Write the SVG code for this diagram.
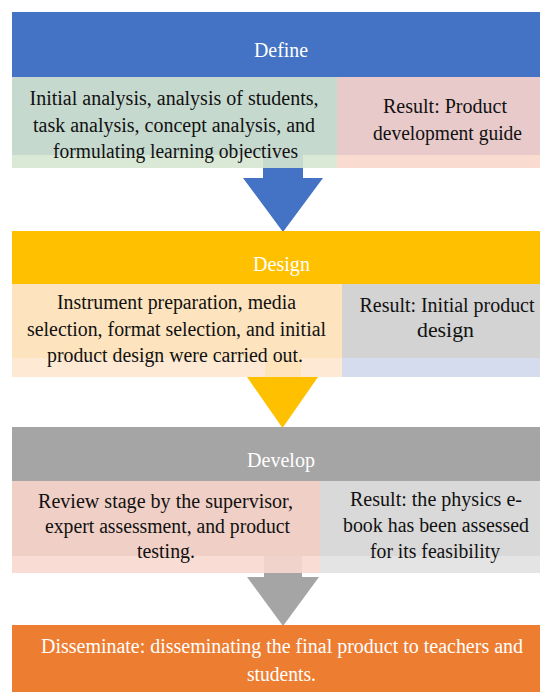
<svg xmlns="http://www.w3.org/2000/svg" width="540" height="692" viewBox="0 0 540 692">
<style>
text{font-family:"Liberation Serif","Times New Roman",serif;font-size:20px;text-anchor:middle}
.h{fill:#ffffff}
.b{fill:#111111}
.strip{fill-opacity:0.9}
</style>
<rect width="540" height="692" fill="#ffffff"/>
<g id="connectors">
<path d="M263 155 H303 V178 H323 L283 232 L243 178 H263 Z" fill="#4472c4"/>
<path d="M265 358 H301 V377 H318 L282.5 428 L247 377 H265 Z" fill="#ffc000"/>
<path d="M264 556 H302 V577 H319 L283 626 L247 577 H264 Z" fill="#a5a5a5"/>
</g>
<g id="define">
<rect x="12" y="12" width="528" height="65" fill="#4472c4"/>
<text class="h" x="281" y="57" textLength="54" lengthAdjust="spacingAndGlyphs">Define</text>
</g>
<g id="define-activities">
<rect x="12" y="77" width="325" height="78" fill="#c6d9cf"/>
<rect class="strip" x="12" y="155" width="325" height="13" fill="#d6e6d2"/>
<text class="b" x="174" y="105" textLength="289" lengthAdjust="spacingAndGlyphs">Initial analysis, analysis of students,</text>
<text class="b" x="174" y="131.5" textLength="282" lengthAdjust="spacingAndGlyphs">task analysis, concept analysis, and</text>
<text class="b" x="175.5" y="158" textLength="245" lengthAdjust="spacingAndGlyphs">formulating learning objectives</text>
</g>
<g id="define-result">
<rect x="337" y="77" width="203" height="78" fill="#e8cacb"/>
<rect class="strip" x="337" y="155" width="203" height="13" fill="#f8d7cb"/>
<text class="b" x="445" y="113" textLength="124" lengthAdjust="spacingAndGlyphs">Result: Product</text>
<text class="b" x="447.5" y="140" textLength="149" lengthAdjust="spacingAndGlyphs">development guide</text>
</g>
<g id="design">
<rect x="12" y="231" width="528" height="53" fill="#ffc000"/>
<text class="h" x="281.5" y="271" textLength="57" lengthAdjust="spacingAndGlyphs">Design</text>
</g>
<g id="design-activities">
<rect x="12" y="284" width="330" height="74" fill="#fde4bf"/>
<rect class="strip" x="12" y="358" width="330" height="19" fill="#fee7cf"/>
<text class="b" x="176.5" y="309" textLength="239" lengthAdjust="spacingAndGlyphs">Instrument preparation, media</text>
<text class="b" x="176.5" y="336" textLength="299" lengthAdjust="spacingAndGlyphs">selection, format selection, and initial</text>
<text class="b" x="175" y="362" textLength="256" lengthAdjust="spacingAndGlyphs">product design were carried out.</text>
</g>
<g id="design-result">
<rect x="342" y="284" width="198" height="74" fill="#d3d3d3"/>
<rect class="strip" x="342" y="358" width="198" height="19" fill="#d0d8ec"/>
<text class="b" x="447" y="312" textLength="175" lengthAdjust="spacingAndGlyphs">Result: Initial product</text>
<text class="b" x="445.5" y="337" textLength="57" lengthAdjust="spacingAndGlyphs">design</text>
</g>
<g id="develop">
<rect x="12" y="427" width="528" height="54" fill="#a5a5a5"/>
<text class="h" x="281" y="467" textLength="68" lengthAdjust="spacingAndGlyphs">Develop</text>
</g>
<g id="develop-activities">
<rect x="12" y="481" width="308" height="75" fill="#f0cfc6"/>
<rect class="strip" x="12" y="556" width="308" height="17" fill="#f8d9d0"/>
<text class="b" x="165.5" y="508" textLength="255" lengthAdjust="spacingAndGlyphs">Review stage by the supervisor,</text>
<text class="b" x="167.5" y="533" textLength="245" lengthAdjust="spacingAndGlyphs">expert assessment, and product</text>
<text class="b" x="166" y="558" textLength="58" lengthAdjust="spacingAndGlyphs">testing.</text>
</g>
<g id="develop-result">
<rect x="320" y="481" width="220" height="75" fill="#d9d9d9"/>
<rect class="strip" x="320" y="556" width="220" height="17" fill="#e1e1e1"/>
<text class="b" x="436" y="506" textLength="172" lengthAdjust="spacingAndGlyphs">Result: the physics e-</text>
<text class="b" x="436" y="532" textLength="186" lengthAdjust="spacingAndGlyphs">book has been assessed</text>
<text class="b" x="435" y="558" textLength="130" lengthAdjust="spacingAndGlyphs">for its feasibility</text>
</g>
<g id="disseminate">
<rect x="12" y="625" width="528" height="67" fill="#ed7d31"/>
<text class="h" x="282" y="653" textLength="482" lengthAdjust="spacingAndGlyphs">Disseminate: disseminating the final product to teachers and</text>
<text class="h" x="281.5" y="681" textLength="69" lengthAdjust="spacingAndGlyphs">students.</text>
</g>
</svg>
